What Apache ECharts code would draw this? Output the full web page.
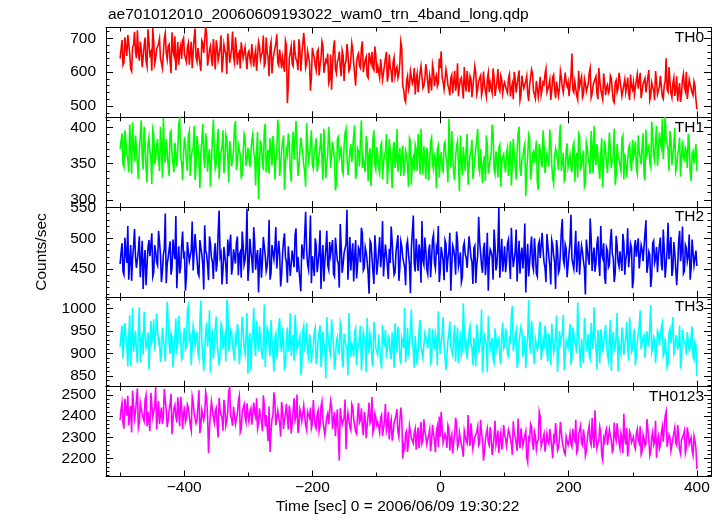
<!DOCTYPE html>
<html>
<head>
<meta charset="utf-8">
<script src="https://cdn.jsdelivr.net/npm/echarts@6/dist/echarts.min.js"></script>
<style>
html,body{margin:0;padding:0;background:#fff;}
#chart{width:724px;height:516px;}
</style>
</head>
<body>
<div id="chart"></div>
<script>
// ---- data: samples "a" at -500 + 3k s, samples "b" at -498.5 + 3k s ----
const T0 = -500;
const DT = 3;
const panelNames = ['TH0', 'TH1', 'TH2', 'TH3', 'TH0123'];

const th0 = [
640,695,628,672,710,655,603,681,662,724,634,668,645,702,617,690,659,731,626,668,
684,641,612,699,657,676,632,718,650,606,689,664,639,701,
648,673,622,690,658,729,631,667,604,685,652,711,640,677,618,662,694,635,672,599,
681,656,714,628,669,646,703,622,660,688,641,674,609,
662,627,681,648,604,690,637,659,619,702,641,673,596,655,684,628,667,611,649,693,
508,640,676,618,658,632,697,603,651,680,625,664,545,672,
642,605,667,621,690,598,636,655,579,548,673,610,632,661,588,650,624,683,603,639,
667,594,628,655,612,691,621,645,583,637,660,606,648,
618,584,641,597,625,572,652,603,630,588,615,596,690,560,
520,575,548,603,566,612,579,541,598,586,560,624,571,590,545,605,582,558,640,
662,571,548,590,552,583,537,604,566,529,578,556,615,543,570,588,526,561,597,549,
575,532,602,558,580,541,566,611,530,572,553,589,538,570,
546,583,528,566,601,540,558,517,590,552,574,535,563,608,545,522,579,556,533,570,
594,541,560,518,585,549,572,530,603,555,537,568,571,
562,655,540,575,519,558,586,534,566,547,598,525,561,580,537,612,549,520,571,556,
538,590,545,510,576,553,600,529,562,541,584,518,557,
570,535,594,548,523,565,582,540,606,531,555,517,574,546,589,528,560,641,542,571,
525,583,550,514,568,536,595,544,521,578,553,532,560,490
];
const th0b = [
667,621,703,648,685,610,674,719,641,659,690,615,678,633,727,651,604,688,642,670,
699,627,656,715,638,682,597,664,706,645,622,679,693,652,
630,686,659,612,701,644,671,625,693,657,735,619,666,640,698,608,675,651,709,633,
662,595,684,647,720,629,668,653,611,692,637,679,655,
641,683,616,665,599,676,651,708,627,660,588,689,636,655,712,620,669,644,601,680,
561,657,625,694,638,606,671,648,716,613,662,630,584,655,
619,660,590,641,677,603,630,568,652,622,694,597,639,615,664,574,633,655,609,686,
627,560,648,618,671,600,636,589,657,625,612,676,598,
602,639,577,621,660,591,613,570,644,606,583,628,672,
548,512,589,561,607,575,534,596,569,618,553,580,601,538,574,622,559,591,568,612,
583,549,608,561,531,592,570,545,626,557,584,522,567,603,541,579,556,618,535,574,
590,547,563,528,598,569,539,585,552,609,544,577,560,
571,538,594,553,520,580,562,605,533,567,548,589,515,559,596,541,574,527,586,550,
564,610,536,577,545,592,523,568,551,584,540,599,558,529,
590,547,572,531,604,556,525,581,543,567,612,536,559,588,520,574,549,596,532,563,
545,583,516,569,541,598,554,527,579,560,539,593,548,
533,576,551,598,527,562,540,585,518,569,547,603,534,557,592,521,573,549,615,538,
566,530,588,545,512,579,556,601,526,563,540,572,519
];

const th1 = [
370,392,345,381,358,404,336,372,389,351,367,410,342,378,324,386,360,397,349,375,
355,401,331,369,384,347,392,363,338,380,370,412,352,361,
377,340,395,358,371,327,388,353,366,405,344,379,361,318,384,369,349,398,356,373,
337,390,362,381,346,367,409,351,375,331,364,386,355,
372,343,391,359,366,301,380,352,397,338,369,385,347,374,356,411,333,368,389,350,
362,378,325,394,357,371,344,386,364,339,406,353,375,348,
366,385,341,372,355,398,330,363,380,346,369,313,384,357,374,336,392,360,349,377,
352,403,338,367,381,344,359,388,326,371,355,396,342,
363,337,379,351,366,322,384,348,371,344,398,356,333,375,347,362,318,381,353,340,
369,391,335,357,374,329,363,349,386,342,358,370,331,
366,339,380,352,412,345,361,327,374,348,389,334,357,370,321,362,383,343,355,398,
338,368,351,326,376,345,363,392,336,354,372,318,359,347,
365,333,381,350,362,328,393,344,356,371,305,359,385,340,367,349,324,377,353,396,
337,363,346,381,330,358,372,341,404,352,326,368,345,
362,338,379,354,331,387,346,368,322,373,350,395,336,359,377,343,364,317,382,352,
339,371,356,398,333,361,347,385,328,366,353,376,340,
358,381,336,367,349,392,327,363,374,345,388,354,402,366,379,412,357,384,369,395,
348,376,339,363,386,331,358,372,344,381,326,367,352,340
];
const th1b = [
381,349,396,362,338,375,407,353,370,329,388,359,401,344,377,366,322,390,357,384,
340,372,413,351,368,333,395,361,379,346,405,358,327,387,
352,389,333,368,402,347,374,316,381,360,392,339,370,355,411,343,378,329,366,396,
350,383,324,369,357,400,341,376,362,334,391,347,372,
345,383,366,320,394,352,377,341,405,359,336,371,388,328,363,399,347,380,314,369,
392,340,375,356,409,333,367,385,349,318,378,361,396,343,
374,339,361,392,327,368,351,401,344,380,356,321,387,363,341,375,398,334,366,352,
389,329,371,346,410,357,338,379,362,319,384,349,373,
344,375,329,362,391,348,367,316,380,355,339,372,360,
333,368,347,385,321,359,376,340,364,398,335,356,372,327,381,349,362,316,375,353,
342,377,358,324,369,395,337,360,381,312,355,373,340,391,348,366,329,357,384,345,
370,323,361,389,336,358,404,343,367,331,376,352,363,
338,372,355,320,384,346,367,401,333,359,377,342,390,328,364,351,382,314,369,345,
375,336,361,397,349,322,371,356,386,340,365,330,378,352,
347,374,325,365,391,343,359,318,380,355,336,371,402,348,362,329,385,351,368,337,
393,344,360,321,377,356,340,389,364,331,372,349,383,
366,343,389,358,374,335,397,369,351,408,362,384,347,393,372,356,415,378,340,386,
361,399,345,370,332,382,355,368,391,338,363,350,377
];

const th2 = [
458,492,441,476,520,463,431,487,470,449,503,466,418,481,455,497,472,438,489,461,
512,474,446,483,427,469,495,452,478,536,460,443,488,471,415,494,463,480,448,507,
467,439,485,458,521,474,432,491,462,477,446,509,470,425,486,455,498,468,441,482,
459,503,474,436,490,465,548,451,479,444,493,470,412,484,461,500,447,476,433,489,
466,518,453,475,440,496,469,428,487,458,479,505,445,473,414,491,463,482,449,537,
471,439,488,460,513,467,430,483,456,494,475,442,501,464,420,487,458,479,546,466,
448,492,470,435,485,461,508,452,477,443,496,468,426,481,459,502,473,438,490,455,
483,519,462,445,478,431,495,469,453,488,474,411,484,460,499,447,476,528,457,481,
442,490,466,506,451,474,429,486,463,497,445,479,415,488,470,511,454,477,437,493,
468,449,501,461,484,427,472,495,456,482,440,509,465,478,433,490,459,549,471,446,
487,462,498,434,479,455,514,468,443,485,474,412,491,460,503,449,477,438,495,466,
481,452,507,470,425,489,461,497,444,476,531,458,483,436,493,467,450,512,474,441,
488,463,409,482,457,500,471,446,490,459,520,468,437,485,453,496,475,429,504,462,
479,447,493,466,516,455,484,432,497,470,451,489,463,508,444,478,421,492,460,486,
471,501,448,483,458,525,467,439,494,474,454,512,480,443,489,462,506,451,477,468,
455
];
const th2b = [
477,446,501,460,433,489,468,515,452,480,437,496,463,424,485,471,508,445,479,456,
494,429,473,540,458,482,441,498,466,419,487,453,511,475,438,491,462,527,450,484,
443,497,474,417,480,457,503,469,434,492,460,545,476,448,488,426,471,506,454,483,
493,440,478,511,457,486,431,499,467,518,449,481,463,436,502,472,455,530,444,477,
485,451,496,422,474,508,461,487,439,480,453,516,470,432,490,466,543,458,483,427,
456,500,445,478,418,489,464,512,449,473,497,438,482,459,523,444,476,491,433,502,
474,430,497,456,481,517,448,485,463,410,492,470,505,441,479,453,528,466,487,434,
460,495,441,478,505,452,487,467,424,496,458,483,537,446,472,490,428,464,501,450,
479,437,498,460,484,520,447,475,432,491,467,509,455,482,441,497,463,429,486,474,
452,503,469,426,488,457,535,476,444,493,461,415,482,470,514,448,487,436,499,465,
445,492,461,517,453,479,430,496,472,451,524,465,438,484,457,500,443,489,468,509,
461,429,488,455,497,472,418,483,449,512,466,490,437,476,538,458,481,445,495,470,
478,451,498,466,532,447,485,460,503,439,474,492,426,480,457,515,468,443,489,454,
464,507,441,476,453,491,419,485,470,500,448,482,461,529,456,473,438,496,467,445,
489,458,514,436,480,466,502,450,477,424,494,463,519,447,484,471,433,498,456,480
];

const th3 = [
915,962,893,940,871,985,926,904,951,878,1003,932,897,948,918,865,972,937,906,989,
924,881,957,912,945,1012,899,936,868,978,921,953,887,940,909,996,931,874,962,917,
948,890,1018,927,903,969,935,857,944,913,982,926,895,959,930,882,1005,919,947,901,
938,966,876,921,954,898,990,929,862,943,916,973,906,935,888,1009,925,950,894,931,
860,945,912,979,903,933,871,958,920,894,941,986,908,927,852,950,915,967,890,929,
904,948,876,931,963,898,919,845,942,907,976,922,885,937,901,956,869,928,911,990,
893,926,948,874,915,962,900,935,858,921,944,883,970,912,897,939,866,925,953,908,
931,887,919,968,902,944,876,927,1001,912,893,950,921,868,937,906,975,918,889,943,
911,957,884,928,946,873,935,902,981,920,862,944,915,896,964,926,879,938,907,953,
924,890,961,913,935,871,947,918,998,900,929,858,943,921,887,956,910,934,876,969,
916,941,893,927,1006,904,952,881,925,949,911,867,938,920,973,896,932,908,957,885,
929,962,901,944,874,936,915,985,899,923,948,863,930,912,966,890,941,917,1014,905,
933,878,951,921,896,968,910,939,865,927,954,902,945,918,884,975,929,906,943,860,
922,958,897,935,914,980,903,941,873,926,962,909,936,890,950,919,1008,913,930,881,
946,915,968,902,934,877,955,924,898,941,911,962,886,932,919,948,906,937,893,925,
850
];
const th3b = [
941,889,968,917,935,872,1001,928,906,955,880,939,993,912,947,866,925,976,903,950,
931,897,960,883,1015,922,944,869,937,909,984,926,892,957,914,1006,938,878,949,920,
902,971,929,861,945,915,996,933,888,958,924,873,966,910,940,1020,905,953,918,884,
927,950,899,982,912,937,855,946,921,1002,894,934,961,906,928,870,957,915,975,898,
936,889,964,918,947,866,930,905,990,923,884,951,912,938,872,962,926,901,943,879,
916,958,891,933,870,949,910,981,924,896,940,864,929,906,968,887,944,919,851,935,
925,893,956,908,937,862,948,916,979,900,930,871,953,911,942,885,964,920,897,938,
903,947,868,926,960,891,935,912,880,957,921,998,907,939,875,952,917,889,946,928,
940,878,955,909,932,994,899,944,916,863,929,971,905,937,882,958,924,896,1012,913,
887,949,921,874,938,965,902,931,857,946,918,983,908,935,879,955,926,890,943,911,
956,898,933,984,906,941,868,927,960,893,939,915,1019,900,947,876,932,917,971,889,
910,945,882,928,966,903,937,858,950,921,986,896,934,912,875,958,925,901,942,867,
931,979,906,943,888,927,1003,915,952,878,939,920,964,897,933,861,948,911,990,922,
899,944,917,970,884,936,909,955,872,928,996,913,941,890,926,962,903,937,879,951,
918,958,895,934,869,947,923,981,904,939,916,866,952,928,897,944,913,960,886,919
];

const th0123 = [
2380,2462,2341,2437,2495,2398,2322,2451,2418,2530,2367,2433,2389,2476,2352,2420,2509,2395,2445,2336,
2470,2408,2363,2527,2429,2381,2458,2314,2436,2399,2488,2352,2441,2410,
2372,2455,2398,2331,2468,2417,2379,2521,2350,2432,2406,2485,2225,2414,2459,2368,2437,2299,2426,2391,
2476,2354,2420,2533,2385,2443,2361,2410,2494,2337,2428,2397,2460,
2374,2436,2350,2415,2483,2362,2398,2329,2452,2405,2281,2230,2386,2512,2357,2424,2370,2467,2338,2410,
2391,2449,2318,2428,2380,2501,2346,2414,2377,2458,2334,2403,2440,2365,
2398,2341,2426,2355,2469,2377,2320,2413,2362,2447,2388,2305,2431,2190,2395,2352,2478,2367,2409,2333,
2442,2374,2316,2461,2381,2349,2420,2296,2403,2366,2489,2340,2392,
2371,2322,2405,2339,2458,2356,2290,2383,2317,2364,2432,2301,2440,2200,
2245,2330,2279,2362,2288,2319,2241,2346,2295,2270,2384,2305,2258,2337,2282,2316,2229,2351,2398,
2420,2274,2315,2250,2339,2296,2223,2308,2361,2267,2292,2244,2330,2281,2405,2259,2312,2236,2298,2350,
2271,2318,2189,2285,2341,2262,2303,2248,2377,2290,2226,2322,2275,2310,
2259,2336,2291,2217,2315,2272,2388,2248,2300,2265,2329,2182,2287,2351,2240,2306,2278,2420,2257,2294,
2232,2318,2269,2345,2201,2283,2311,2250,2372,2276,2229,2303,2262,
2318,2255,2296,2382,2240,2309,2272,2337,2213,2290,2356,2263,2301,2427,2248,2286,2322,2193,2279,2340,
2258,2305,2231,2369,2284,2316,2247,2293,2410,2266,2209,2327,2275,
2302,2244,2338,2271,2219,2313,2259,2386,2290,2236,2325,2278,2203,2307,2264,2349,2285,2422,2251,2296,
2232,2319,2274,2358,2240,2289,2311,2226,2347,2266,2298,2215,2280,2150
];
const th0123b = [
2433,2368,2481,2402,2356,2447,2519,2387,2425,2344,2462,2410,2375,2498,2421,2329,2454,2392,2536,2413,
2361,2440,2395,2473,2348,2427,2505,2384,2452,2370,2418,2491,2339,2446,
2390,2441,2357,2493,2412,2365,2450,2319,2429,2381,2512,2400,2346,2468,2394,2423,2357,2486,2408,2331,
2445,2379,2517,2402,2353,2436,2388,2470,2323,2419,2455,2372,2406,
2421,2359,2463,2395,2340,2436,2380,2497,2351,2412,2445,2326,2403,2472,2366,2389,2303,2428,2384,2457,
2337,2410,2365,2484,2398,2320,2433,2375,2449,2356,2420,2391,2343,2475,
2354,2409,2328,2446,2380,2311,2397,2361,2473,2339,2418,2374,2302,2437,2359,2392,2244,2415,2348,2456,
2383,2327,2404,2369,2436,2310,2390,2352,2463,2378,2321,2411,2357,
2348,2392,2306,2375,2331,2419,2359,2284,2367,2402,2325,2380,2395,
2262,2318,2231,2354,2296,2271,2340,2307,2248,2373,2285,2329,2266,2311,2235,2358,2290,2327,2254,2302,
2345,2268,2297,2356,2238,2314,2279,2392,2252,2321,2286,2208,2337,2270,2303,2365,2245,2299,2326,2261,
2382,2289,2232,2319,2275,2348,2216,2306,2264,2331,2293,2242,2357,
2294,2250,2321,2268,2375,2303,2236,2286,2342,2259,2310,2205,2297,2363,2271,2325,2243,2289,2398,2266,
2315,2228,2282,2339,2254,2300,2367,2238,2292,2326,2274,2219,2309,2281,
2269,2340,2283,2228,2312,2355,2261,2297,2234,2329,2278,2391,2250,2306,2271,2348,2216,2295,2324,2263,
2336,2287,2241,2303,2366,2275,2318,2225,2298,2344,2257,2311,2280,
2258,2317,2285,2351,2233,2294,2271,2336,2215,2301,2263,2378,2288,2246,2320,2279,2401,2255,2312,2236,
2293,2345,2262,2307,2221,2284,2330,2249,2316,2272,2238,2305,2247
];

// ---- tick values ----
const xMajorTicks = [-400, -200, 0, 200, 400];
const xMinorTicks = [-500, -300, -100, 100, 300];
const yMajorTicks = [
  [500, 600, 700],
  [300, 350, 400],
  [450, 500, 550],
  [850, 900, 950, 1000],
  [2200, 2300, 2400, 2500]
];
const yMinorTicks = [
  [480, 520, 540, 560, 580, 620, 640, 660, 680, 720],
  [290, 310, 320, 330, 340, 360, 370, 380, 390, 410],
  [410, 420, 430, 440, 460, 470, 480, 490, 510, 520, 530, 540],
  [830, 840, 860, 870, 880, 890, 910, 920, 930, 940, 960, 970, 980, 990, 1010, 1020],
  [2120, 2140, 2160, 2180, 2220, 2240, 2260, 2280, 2320, 2340, 2360, 2380, 2420, 2440, 2460, 2480, 2520]
];
const yRanges = [[466.6, 732], [290, 414], [405, 550.5], [826, 1026], [2115, 2538]];
const xRange = [-522, 422];
const seriesA = [th0, th1, th2, th3, th0123];
const seriesB = [th0b, th1b, th2b, th3b, th0123b];

const titleText = 'ae701012010_20060609193022_wam0_trn_4band_long.qdp';
const xTitle = 'Time [sec] 0 = 2006/06/09 19:30:22';
const yTitle = 'Counts/sec';

// ---- layout / style ----
const colors = ['#ff0000', '#00ff00', '#0000ff', '#00ffff', '#ff00ff'];
const FONT = '"Liberation Sans", Arial, Helvetica, sans-serif';
const FS = 15.5;
const gridLeft = 106, gridWidth = 605;
const topStart = 27.5, panelH = 89.8;

function mergeSamples(a, b) {
  const pts = [];
  a.forEach((v, k) => pts.push([T0 + DT * k, v]));
  b.forEach((v, k) => pts.push([T0 + DT / 2 + DT * k, v]));
  pts.sort((p, q) => p[0] - q[0]);
  return pts;
}

const grids = [], xAxes = [], yAxes = [], series = [], graphics = [];
const lineStyle = { color: '#000', width: 1 };

for (let i = 0; i < 5; i++) {
  const top = topStart + i * panelH;
  grids.push({ left: gridLeft, top: top, width: gridWidth, height: panelH, show: false });
  const isLast = i === 4;
  const mkX = (pos, ticks, len, showLine, labels) => ({
    type: 'value', gridIndex: i, position: pos, min: xRange[0], max: xRange[1],
    axisLine: { show: showLine, onZero: false, lineStyle: lineStyle },
    axisTick: { show: true, inside: true, length: len, customValues: ticks, lineStyle: lineStyle },
    axisLabel: {
      show: labels, customValues: ticks, margin: 3, color: '#000', fontSize: FS, fontFamily: FONT,
      formatter: v => String(v).replace('-', '\u2212')
    },
    splitLine: { show: false }
  });
  xAxes.push(mkX('bottom', xMajorTicks, 6, true, isLast));
  xAxes.push(mkX('bottom', xMinorTicks, 4, false, false));
  xAxes.push(mkX('top', xMajorTicks, 6, true, false));
  xAxes.push(mkX('top', xMinorTicks, 4, false, false));

  const mkY = (pos, ticks, len, showLine, labels) => ({
    type: 'value', gridIndex: i, position: pos, min: yRanges[i][0], max: yRanges[i][1],
    axisLine: { show: showLine, onZero: false, lineStyle: lineStyle },
    axisTick: { show: true, inside: true, length: len, customValues: ticks, lineStyle: lineStyle },
    axisLabel: {
      show: labels, customValues: ticks, margin: 10, color: '#000', fontSize: FS, fontFamily: FONT,
      formatter: v => String(v)
    },
    splitLine: { show: false }
  });
  yAxes.push(mkY('left', yMajorTicks[i], 7, true, true));
  yAxes.push(mkY('left', yMinorTicks[i], 3.5, false, false));
  yAxes.push(mkY('right', yMajorTicks[i], 7, true, false));
  yAxes.push(mkY('right', yMinorTicks[i], 3.5, false, false));

  series.push({
    type: 'line', xAxisIndex: i * 4, yAxisIndex: i * 4,
    data: mergeSamples(seriesA[i], seriesB[i]),
    showSymbol: false, symbol: 'none', sampling: null,
    lineStyle: { color: colors[i], width: 1.6, join: 'miter' },
    itemStyle: { color: colors[i] },
    clip: true, animation: false, z: 1
  });

  graphics.push({
    type: 'text', x: 704, y: top + 10,
    style: { text: panelNames[i], font: FS + 'px ' + FONT, fill: '#000', align: 'right', verticalAlign: 'middle' },
    z: 10
  });
}

graphics.push({
  type: 'text', x: 108, y: 15,
  style: { text: titleText, font: FS + 'px ' + FONT, fill: '#000', align: 'left', verticalAlign: 'middle' }
});
graphics.push({
  type: 'text', x: 397.5, y: 507,
  style: { text: xTitle, font: FS + 'px ' + FONT, fill: '#000', align: 'center', verticalAlign: 'middle' }
});
graphics.push({
  type: 'text', x: 42, y: 252, rotation: Math.PI / 2,
  style: { text: yTitle, font: FS + 'px ' + FONT, fill: '#000', align: 'center', verticalAlign: 'middle' }
});

const chart = echarts.init(document.getElementById('chart'), null, { renderer: 'canvas' });
chart.setOption({
  animation: false,
  backgroundColor: '#fff',
  grid: grids,
  xAxis: xAxes,
  yAxis: yAxes,
  series: series,
  graphic: graphics
});
</script>
</body>
</html>
